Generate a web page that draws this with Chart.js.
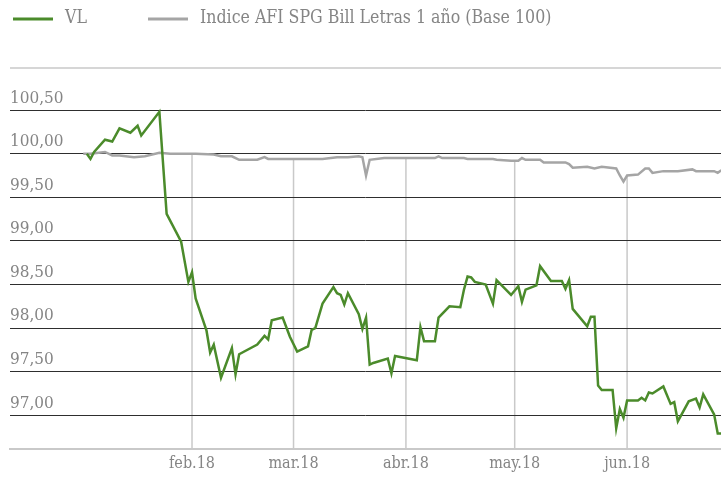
<!DOCTYPE html>
<html>
<head>
<meta charset="utf-8">
<script src="https://cdn.jsdelivr.net/npm/chart.js@4.4.1/dist/chart.umd.min.js"></script>
<style>
  html, body { margin: 0; padding: 0; background: #fff; }
  #wrap { width: 721px; height: 479px; }
</style>
</head>
<body>
<div id="wrap"><canvas id="grafico"></canvas></div>
<script>
// Valores (año 2018)
const vlFechas = [
  '2018-01-03','2018-01-04','2018-01-05','2018-01-08','2018-01-10','2018-01-12','2018-01-15','2018-01-17',
  '2018-01-18','2018-01-23','2018-01-25','2018-01-29','2018-01-31','2018-02-01','2018-02-02','2018-02-05',
  '2018-02-06','2018-02-07','2018-02-09','2018-02-12','2018-02-13','2018-02-14','2018-02-19','2018-02-21',
  '2018-02-22','2018-02-23','2018-02-26','2018-02-28','2018-03-02','2018-03-05','2018-03-06','2018-03-07',
  '2018-03-09','2018-03-12','2018-03-13','2018-03-14','2018-03-15','2018-03-16','2018-03-19','2018-03-20',
  '2018-03-21','2018-03-22','2018-03-23','2018-03-27','2018-03-28','2018-03-29','2018-04-04','2018-04-05',
  '2018-04-06','2018-04-09','2018-04-10','2018-04-13','2018-04-16','2018-04-17','2018-04-18','2018-04-19',
  '2018-04-20','2018-04-23','2018-04-25','2018-04-26','2018-04-30','2018-05-02','2018-05-03','2018-05-04',
  '2018-05-07','2018-05-08','2018-05-11','2018-05-14','2018-05-15','2018-05-16','2018-05-17','2018-05-21',
  '2018-05-22','2018-05-23','2018-05-24','2018-05-25','2018-05-28','2018-05-29','2018-05-30','2018-05-31',
  '2018-06-01','2018-06-04','2018-06-05','2018-06-06','2018-06-07','2018-06-08','2018-06-11','2018-06-13',
  '2018-06-14','2018-06-15','2018-06-18','2018-06-20','2018-06-21','2018-06-22','2018-06-25','2018-06-26',
  '2018-06-27'
];
const vlValores = [
  100.00, 99.94, 100.02, 100.16, 100.14, 100.29, 100.24, 100.32,
  100.21, 100.48, 99.31, 98.99, 98.53, 98.64, 98.34, 97.97,
  97.72, 97.81, 97.43, 97.77, 97.47, 97.70, 97.81, 97.91,
  97.87, 98.09, 98.12, 97.90, 97.73, 97.79, 97.98, 98.00,
  98.28, 98.47, 98.40, 98.38, 98.27, 98.40, 98.16, 97.99,
  98.12, 97.58, 97.60, 97.65, 97.48, 97.68, 97.63, 98.01,
  97.85, 97.85, 98.12, 98.25, 98.24, 98.44, 98.59, 98.58,
  98.53, 98.50, 98.28, 98.55, 98.38, 98.48, 98.30, 98.44,
  98.49, 98.71, 98.54, 98.54, 98.45, 98.55, 98.22, 98.02,
  98.13, 98.13, 97.34, 97.29, 97.29, 96.85, 97.07, 96.97,
  97.17, 97.17, 97.20, 97.17, 97.26, 97.25, 97.33, 97.13,
  97.15, 96.93, 97.16, 97.19, 97.09, 97.24, 97.01, 96.79,
  96.79
];

const indiceFechas = [
  '2018-01-02','2018-01-04','2018-01-08','2018-01-10','2018-01-12','2018-01-16','2018-01-19','2018-01-23',
  '2018-01-26','2018-02-02','2018-02-07','2018-02-09','2018-02-12','2018-02-14','2018-02-19','2018-02-21',
  '2018-02-22','2018-03-02','2018-03-09','2018-03-13','2018-03-16','2018-03-19','2018-03-20','2018-03-21',
  '2018-03-22','2018-03-26','2018-04-02','2018-04-09','2018-04-10','2018-04-11','2018-04-17','2018-04-18',
  '2018-04-25','2018-04-26','2018-04-30','2018-05-02','2018-05-03','2018-05-04','2018-05-08','2018-05-09',
  '2018-05-15','2018-05-16','2018-05-17','2018-05-21','2018-05-23','2018-05-25','2018-05-29','2018-05-30',
  '2018-05-31','2018-06-01','2018-06-04','2018-06-06','2018-06-07','2018-06-08','2018-06-11','2018-06-15',
  '2018-06-19','2018-06-20','2018-06-25','2018-06-26','2018-06-27'
];
const indiceValores = [
  100.00, 100.00, 100.02, 99.98, 99.98, 99.96, 99.97, 100.01,
  100.00, 100.00, 99.99, 99.97, 99.97, 99.93, 99.93, 99.96,
  99.94, 99.94, 99.94, 99.96, 99.96, 99.97, 99.96, 99.75,
  99.93, 99.95, 99.95, 99.95, 99.97, 99.95, 99.95, 99.94,
  99.94, 99.93, 99.92, 99.92, 99.95, 99.93, 99.93, 99.90,
  99.90, 99.88, 99.84, 99.85, 99.83, 99.85, 99.83, 99.75,
  99.68, 99.75, 99.76, 99.83, 99.83, 99.78, 99.80, 99.80,
  99.82, 99.80, 99.80, 99.78, 99.81
];

const mesesFechas = ['2018-02-01', '2018-03-01', '2018-04-01', '2018-05-01', '2018-06-01'];
const mesesEtiquetas = ['feb.18', 'mar.18', 'abr.18', 'may.18', 'jun.18'];
const yTicks = [97.0, 97.5, 98.0, 98.5, 99.0, 99.5, 100.0, 100.5];

const FUENTE = '"DejaVu Serif Condensed", "DejaVu Serif", serif';
const GRIS_TEXTO = '#858585';
const VERDE = '#4b8b2b';
const GRIS_LINEA = '#a5a5a5';

// dias desde el 1 de enero
function dia(f) {
  return (Date.parse(f + 'T00:00:00Z') - Date.UTC(2018, 0, 1)) / 86400000;
}

function puntos(fechas, valores) {
  return fechas.map((f, i) => ({ x: dia(f), y: valores[i] }));
}

// lineas verticales de cada mes: desde la linea del indice hasta el eje
const guias = {
  id: 'guias',
  beforeDraw(chart) {
    const { ctx, chartArea, scales } = chart;
    const pts = chart.getDatasetMeta(1).data;
    ctx.save();
    ctx.strokeStyle = '#c9c9c9';
    ctx.lineWidth = 1.5;
    mesesFechas.forEach(f => {
      const x = scales.x.getPixelForValue(dia(f));
      let y = chartArea.bottom;
      for (let i = 1; i < pts.length; i++) {
        if (pts[i].x >= x) {
          const a = pts[i - 1], b = pts[i];
          y = a.y + (b.y - a.y) * (x - a.x) / (b.x - a.x);
          break;
        }
      }
      ctx.beginPath();
      ctx.moveTo(x, y);
      ctx.lineTo(x, chartArea.bottom);
      ctx.stroke();
    });
    // linea superior
    ctx.beginPath();
    ctx.moveTo(chartArea.left, chartArea.top);
    ctx.lineTo(chartArea.right, chartArea.top);
    ctx.stroke();
    ctx.restore();
  }
};

// leyenda
const leyenda = {
  id: 'leyenda',
  afterDraw(chart) {
    const { ctx } = chart;
    const items = [
      { x: 13, texto: chart.data.datasets[0].label, color: VERDE },
      { x: 148, texto: chart.data.datasets[1].label, color: GRIS_LINEA }
    ];
    ctx.save();
    items.forEach(it => {
      ctx.strokeStyle = it.color;
      ctx.lineWidth = 3;
      ctx.beginPath();
      ctx.moveTo(it.x, 19);
      ctx.lineTo(it.x + 40, 19);
      ctx.stroke();
      ctx.fillStyle = GRIS_TEXTO;
      ctx.font = '17.6px ' + FUENTE;
      ctx.textBaseline = 'middle';
      ctx.fillText(it.texto, it.x + 52, 18);
    });
    ctx.restore();
  }
};

const chart = new Chart(document.getElementById('grafico'), {
  type: 'line',
  data: {
    datasets: [
      {
        label: 'VL',
        data: puntos(vlFechas, vlValores),
        borderColor: VERDE,
        borderWidth: 2.5,
        pointRadius: 0,
        tension: 0,
        fill: false
      },
      {
        label: 'Indice AFI SPG Bill Letras 1 año (Base 100)',
        data: puntos(indiceFechas, indiceValores),
        borderColor: GRIS_LINEA,
        borderWidth: 2.5,
        pointRadius: 0,
        tension: 0,
        fill: false
      }
    ]
  },
  options: {
    responsive: true,
    maintainAspectRatio: false,
    animation: false,
    layout: { padding: { top: 68, left: 10, right: 0, bottom: 1 } },
    plugins: {
      legend: { display: false },
      tooltip: { enabled: false }
    },
    scales: {
      x: {
        type: 'linear',
        min: -19.2,
        max: 176.9,
        afterBuildTicks: s => { s.ticks = mesesFechas.map(f => ({ value: dia(f) })); },
        ticks: {
          color: GRIS_TEXTO,
          font: { family: FUENTE, size: 16 },
          padding: 5,
          maxRotation: 0,
          callback: (v, i) => mesesEtiquetas[i]
        },
        grid: { display: false, drawTicks: false },
        border: { display: true, color: '#c9c9c9', width: 2 }
      },
      y: {
        min: 96.615,
        max: 100.983,
        afterBuildTicks: s => { s.ticks = yTicks.map(v => ({ value: v })); },
        ticks: {
          mirror: true,
          padding: 0,
          labelOffset: -12,
          color: GRIS_TEXTO,
          font: { family: FUENTE, size: 17 },
          callback: v => v.toFixed(2).replace('.', ',')
        },
        grid: { color: '#2e2e2e', lineWidth: 1, drawTicks: false },
        border: { display: false }
      }
    }
  },
  plugins: [guias, leyenda]
});
</script>
</body>
</html>
